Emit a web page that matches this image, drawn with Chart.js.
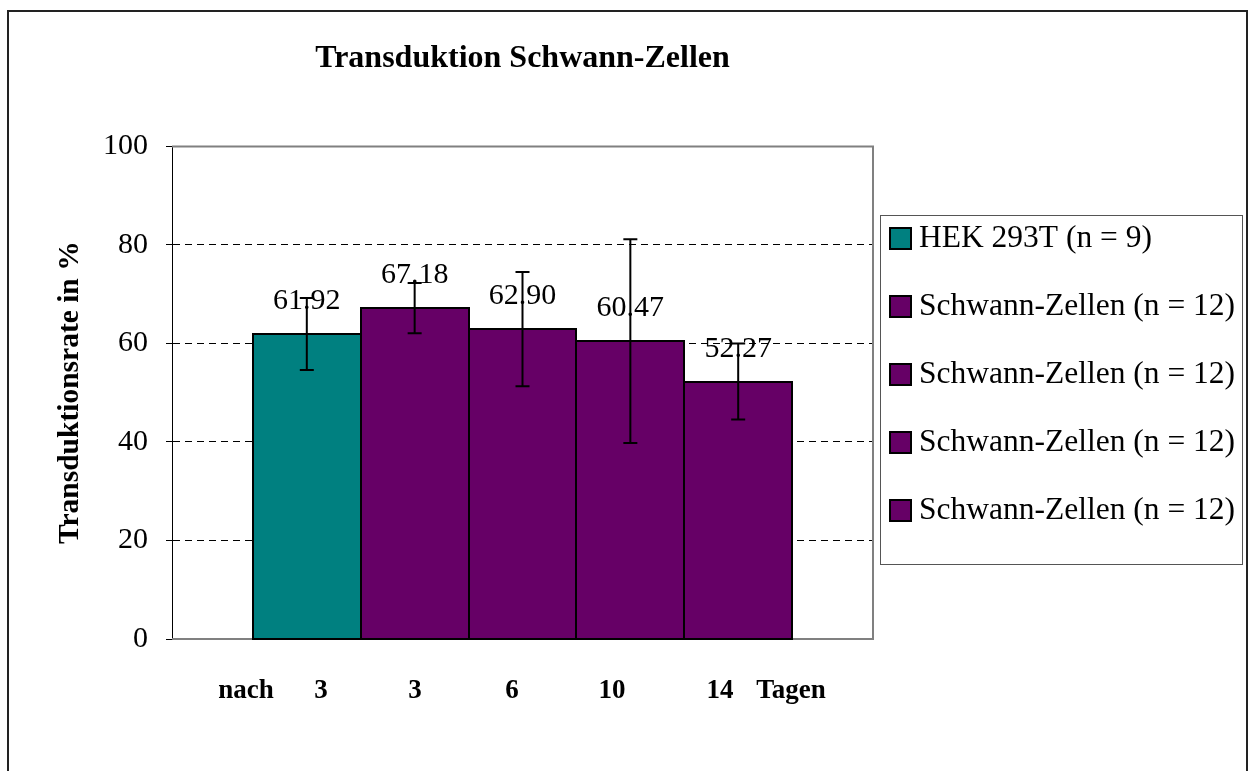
<!DOCTYPE html>
<html>
<head>
<meta charset="utf-8">
<title>Transduktion Schwann-Zellen</title>
<script src="https://cdn.jsdelivr.net/npm/chart.js@4/dist/chart.umd.min.js"></script>
<style>
  html, body { margin: 0; padding: 0; background: #fff; }
  #wrap { width: 1250px; height: 771px; }
</style>
</head>
<body>
<div id="wrap"><canvas id="chart" width="1250" height="771"></canvas></div>
<script>
// data
const seriesLabels = ['HEK 293T (n = 9)', 'Schwann-Zellen (n = 12)', 'Schwann-Zellen (n = 12)', 'Schwann-Zellen (n = 12)', 'Schwann-Zellen (n = 12)'];
const seriesValues = [61.92, 67.18, 62.90, 60.47, 52.27];
const seriesErrors = [7.3, 5.1, 11.6, 20.7, 7.7];
const seriesColors = ['#008080', '#660066', '#660066', '#660066', '#660066'];
const yTicks = [0, 20, 40, 60, 80, 100];
const dayLabels = ['nach', '3', '3', '6', '10', '14', 'Tagen'];

// layout of the text box under the bars (pixels)
const dayLabelX = [246, 321, 415, 512, 612, 720, 791];
const dayLabelY = 691;

const serif = 'Liberation Serif';

// outer frame + plot frame (drawn under the bars)
const framePlugin = {
    id: 'frame',
    beforeDatasetsDraw(chart) {
        const ctx = chart.ctx;
        const a = chart.chartArea;
        ctx.save();
        // plot area border, gray like excel
        ctx.strokeStyle = '#808080';
        ctx.lineWidth = 2;
        ctx.beginPath();
        ctx.moveTo(a.left, a.top);
        ctx.lineTo(a.right, a.top);
        ctx.lineTo(a.right, a.bottom);
        ctx.lineTo(a.left, a.bottom);
        ctx.stroke();
        ctx.restore();
    },
    afterDraw(chart) {
        const ctx = chart.ctx;
        ctx.save();
        ctx.strokeStyle = '#222';
        ctx.lineWidth = 2;
        ctx.beginPath();
        ctx.moveTo(8, chart.height + 5);
        ctx.lineTo(8, 11);
        ctx.lineTo(1247, 11);
        ctx.lineTo(1247, chart.height + 5);
        ctx.stroke();
        ctx.restore();
    }
};

// bar outlines, value labels + error bars on top of the bars
const errorBarPlugin = {
    id: 'errorBars',
    afterDatasetsDraw(chart) {
        const ctx = chart.ctx;
        const yScale = chart.scales.y;
        ctx.save();
        // one black outline per bar, so neighbours share a single line
        ctx.strokeStyle = '#000';
        ctx.lineWidth = 2;
        chart.data.datasets.forEach((ds, i) => {
            const bar = chart.getDatasetMeta(i).data[0];
            const x0 = Math.round(bar.x - bar.width / 2);
            const x1 = Math.round(bar.x + bar.width / 2);
            const y0 = Math.round(bar.y);
            const y1 = Math.round(bar.base);
            ctx.strokeRect(x0, y0, x1 - x0, y1 - y0);
        });

        ctx.fillStyle = '#000';
        ctx.font = '30px "' + serif + '"';
        ctx.textAlign = 'center';
        ctx.textBaseline = 'alphabetic';
        chart.data.datasets.forEach((ds, i) => {
            const bar = chart.getDatasetMeta(i).data[0];
            ctx.fillText(seriesValues[i].toFixed(2), bar.x, bar.y - 25);
        });
        ctx.lineWidth = 2;
        chart.data.datasets.forEach((ds, i) => {
            const bar = chart.getDatasetMeta(i).data[0];
            const hi = yScale.getPixelForValue(seriesValues[i] + seriesErrors[i]);
            const lo = yScale.getPixelForValue(seriesValues[i] - seriesErrors[i]);
            ctx.beginPath();
            ctx.moveTo(bar.x, hi);
            ctx.lineTo(bar.x, lo);
            ctx.moveTo(bar.x - 7, hi);
            ctx.lineTo(bar.x + 7, hi);
            ctx.moveTo(bar.x - 7, lo);
            ctx.lineTo(bar.x + 7, lo);
            ctx.stroke();
        });
        ctx.restore();
    }
};

// legend box on the right and the "nach 3 ... Tagen" text box
const legendPlugin = {
    id: 'boxLegend',
    afterDraw(chart) {
        const ctx = chart.ctx;
        ctx.save();
        ctx.strokeStyle = '#555';
        ctx.lineWidth = 1;
        ctx.strokeRect(880.5, 215.5, 362, 349);

        ctx.font = '31.5px "' + serif + '"';
        ctx.textAlign = 'left';
        ctx.textBaseline = 'middle';
        chart.data.datasets.forEach((ds, i) => {
            const cy = 238 + i * 68;
            ctx.fillStyle = ds.backgroundColor;
            ctx.fillRect(890, cy - 10, 21, 21);
            ctx.strokeStyle = '#000';
            ctx.lineWidth = 2;
            ctx.strokeRect(890, cy - 10, 21, 21);
            ctx.fillStyle = '#000';
            ctx.fillText(ds.label, 919, cy + 1);
        });

        ctx.font = 'bold 27px "' + serif + '"';
        ctx.textAlign = 'center';
        dayLabels.forEach((t, i) => {
            ctx.fillText(t, dayLabelX[i], dayLabelY);
        });
        ctx.restore();
    }
};

new Chart(document.getElementById('chart'), {
    type: 'bar',
    data: {
        labels: [''],
        datasets: seriesLabels.map((label, i) => ({
            label: label,
            data: [seriesValues[i]],
            backgroundColor: seriesColors[i],
            borderWidth: 0,
            categoryPercentage: 5 / 6.5,
            barPercentage: 1
        }))
    },
    options: {
        responsive: false,
        animation: false,
        layout: { padding: { left: 0, right: 377, top: 0, bottom: 132 } },
        plugins: {
            legend: { display: false },
            tooltip: { enabled: false },
            title: {
                display: true,
                text: 'Transduktion Schwann-Zellen',
                fullSize: false,
                color: '#000',
                font: { family: serif, size: 32, weight: 'bold' },
                padding: { top: 40, bottom: 68 }
            }
        },
        scales: {
            x: { display: false },
            y: {
                min: 0,
                max: 100,
                afterBuildTicks: (scale) => { scale.ticks = yTicks.map(v => ({ value: v })); },
                afterFit: (scale) => { scale.width = 172; },
                ticks: {
                    color: '#000',
                    padding: 18,
                    font: { family: serif, size: 30 }
                },
                grid: {
                    color: (c) => (c.tick && (c.tick.value === 0 || c.tick.value === 100)) ? 'rgba(0,0,0,0)' : '#000',
                    lineWidth: 1,
                    tickColor: '#000',
                    tickLength: 6,
                    tickBorderDash: [1, 0]
                },
                border: { display: true, color: '#000', width: 1, dash: [7, 5] },
                title: {
                    display: true,
                    text: 'Transduktionsrate in %',
                    color: '#000',
                    font: { family: serif, size: 29.5, weight: 'bold' },
                    padding: { top: 53, bottom: 0 }
                }
            }
        }
    },
    plugins: [framePlugin, errorBarPlugin, legendPlugin]
});
</script>
</body>
</html>
